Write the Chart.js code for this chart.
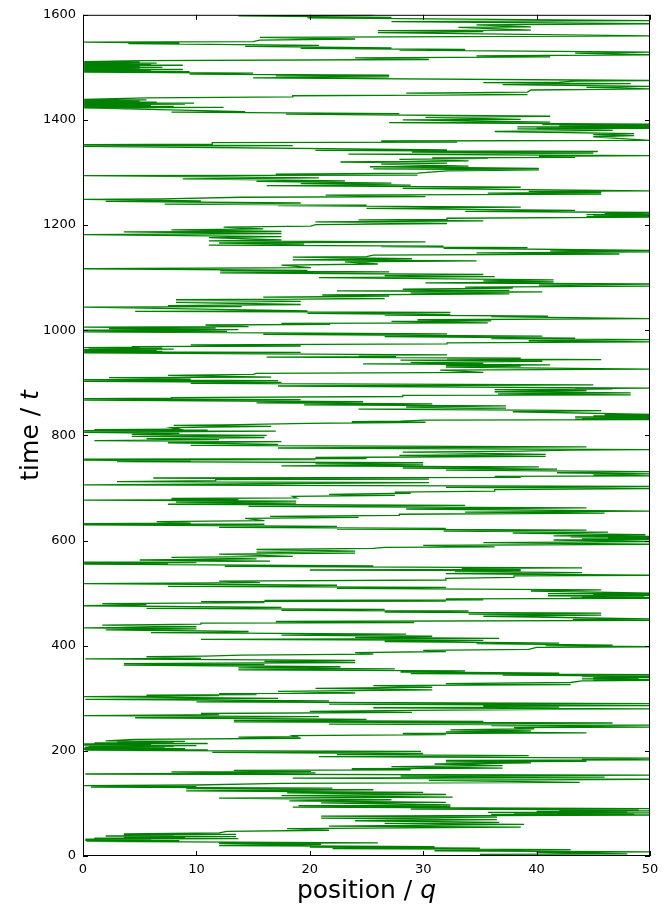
<!DOCTYPE html>
<html>
<head>
<meta charset="utf-8">
<script src="https://cdn.jsdelivr.net/npm/chart.js@4"></script>
<style>
  html, body { margin: 0; padding: 0; background: #fff; }
  #wrap { width: 670px; height: 908px; }
</style>
</head>
<body>
<div id="wrap"><canvas id="walkChart" width="670" height="908"></canvas></div>
<script>
// Trajectory as [position q, time t], in time order
const pathTo140 = [[25.6,0],[41,1],[35,3],[48,4],[40,7],[50,8],[31,10],[43,12],[22,14],[35,15],[20,17],[31,18],[12,20],[21,22],[12,24],[26,25],[0.3,28],[8.5,29],[0.2,30],[6,31],[0.2,32],[13.7,33],[1,34],[9,35],[3.6,36],[13.5,37],[2,38],[8,39],[3.6,40],[13.5,41],[3.6,42],[12,44],[12.7,47],[21.7,49],[18,52],[38.6,55],[21.7,57],[38.9,60],[26.6,62],[36.7,64],[24,67],[36.5,69],[21,72],[36.5,74],[21,76],[50,78],[36,79],[48.6,80],[38,81],[50,82],[35.7,83],[48,84],[40,85],[50,86],[42,87],[49,88],[28.9,89],[50,90],[18.5,93],[32.4,94],[19,96],[32.4,97],[21,101],[32,102],[18.2,105],[27.2,107],[12,110],[32.6,112],[17.5,115],[32,117],[18,120],[30,121],[9.1,124],[25.6,126],[9.1,128],[22,129],[0.7,131],[10,132],[0.1,134],[10,135],[17.5,138],[43.8,140]];
const pathTo277 = [[30.5,144],[50,146],[18.5,148],[46,150],[28,152],[50,154],[0.2,156],[20.5,158],[7.8,160],[20.1,161],[13.3,163],[28.9,164],[23.7,166],[37,167],[27.2,170],[37,172],[31,175],[39.5,177],[32,179],[44.4,180],[32,182],[50,183],[44,185],[50,186],[20.8,189],[39.3,191],[22.4,193],[30,195],[11.4,197],[29.8,199],[0.2,201],[11,202],[0.1,203],[9,204],[0.1,205],[7.2,206],[0.2,207],[8,208],[0.5,209],[10,210],[0.1,211],[6,212],[0.1,213],[11,214],[1,215],[8,216],[3,217],[9,218],[2,219],[4.6,222],[19.2,224],[13.7,226],[18.8,227],[18.5,229],[32,231],[28.2,233],[44.4,234],[32,236],[39.5,238],[32.4,240],[39.8,242],[38,244],[50,245],[36,248],[50,249],[21.7,251],[46.7,253],[13.3,255],[35.3,256],[13.3,258],[25,260],[4.6,263],[20.8,265],[0.1,267],[12,269],[10.4,271],[29,273],[20,275],[29,277]];
const pathTo410 = [[42,279],[50,280],[25.6,282],[42,283],[35.3,285],[50,286],[21.7,289],[50,290],[10,293],[21.7,295],[0.2,298],[17.2,300],[0.1,303],[12,305],[5.6,306],[15.3,307],[12,309],[24,310],[17.2,313],[30.8,316],[20.5,319],[30.8,321],[25.6,324],[43,326],[32,328],[43,330],[44,333],[50,334],[45,335],[50,336],[44,337],[49,338],[45,339],[50,340],[44,341],[50,342],[37,344],[50,345],[28.9,347],[42,348],[28,350],[33.7,352],[13.7,354],[27.5,356],[13.7,358],[22.7,360],[3.6,363],[16,364],[3.6,366],[24,368],[16,370],[24,372],[0.2,375],[10.4,376],[5.6,379],[10.8,380],[14,382],[25.6,384],[24,387],[32,389],[30,391],[39.3,393],[40,397],[50,398],[40.8,400],[46.7,401],[34.7,404],[42,405],[26.6,408],[35.3,410]];
const pathTo543 = [[10.4,412],[36.7,414],[24,416],[30.8,418],[17.5,420],[28.5,422],[6,425],[14.6,427],[2,430],[10,432],[0.1,434],[10,436],[1.7,439],[10.4,441],[10.4,443],[29.2,444],[17,446],[50,448],[43.2,450],[50,451],[35.3,456],[45.7,458],[34,460],[45.7,462],[26.6,464],[34,466],[17.5,467],[26.6,469],[5.6,471],[17.5,473],[0.1,476],[5.6,478],[1.7,480],[16,482],[10.4,484],[32,485],[16,486],[35.3,487],[32,489],[50,490],[43,491],[50,492],[44,493],[49.5,494],[41,495],[50,496],[45,497],[50,498],[41,499],[50,500],[39.5,504],[45.7,506],[22.4,509],[32,511],[7.5,513],[22.4,515],[0.1,518],[15.6,520],[12,523],[32,525],[32,528],[38,530],[38,533],[50,534],[32,537],[44,539],[32.8,541],[38.6,543]];
const pathTo675 = [[20,544],[38.6,545],[33.4,547],[44,548],[12.5,551],[25.6,552],[0.1,555],[7.5,556],[0.1,557],[10,558],[0.1,559],[16.5,561],[5,563],[15.3,565],[7.8,568],[18.5,570],[12,574],[24,576],[15.3,578],[24,580],[15.3,583],[25.6,585],[26.6,587],[36.3,588],[30,591],[50,593],[35.3,596],[50,598],[41.5,601],[50,602],[44,603],[50,604],[46.3,605],[50,606],[43,607],[50,608],[41.5,609],[49.6,611],[37.9,614],[46.3,616],[31.8,618],[44.4,620],[22.4,622],[32,623],[12,625],[22.4,627],[0.1,630],[16,631],[0.1,632],[9.5,633],[6.5,636],[16,638],[14.3,642],[24.3,644],[16.5,646],[27.9,648],[27.9,650],[46,652],[33.7,654],[50,656],[28.5,660],[44.4,662],[14.6,665],[33.7,667],[7.5,669],[18.8,671],[8.2,673],[18.8,675]];
const pathTo808 = [[0.1,677],[13.7,678],[7.8,680],[18.8,681],[18.5,684],[27.5,686],[21.7,688],[28.9,690],[27.5,692],[36.3,694],[36.3,697],[50,699],[32,701],[50,703],[0.1,706],[16.5,708],[20.5,709],[30.5,710],[3,712],[11.7,714],[11.7,716],[30.5,717],[6.2,719],[38.6,720],[36.3,722],[50,723],[45,725],[50,727],[41.8,729],[50,731],[32,734],[41.8,736],[28.2,738],[40.2,740],[17.5,742],[30,744],[20.5,746],[30,748],[3,750],[9.5,751],[0.1,753],[20.5,754],[0.1,755],[25,756],[20.5,758],[40.8,760],[27.9,762],[40.8,764],[28.2,768],[38.6,770],[43,772],[50,773],[17.2,776],[44.4,778],[9.5,781],[17.2,783],[7.5,786],[17.5,788],[1,790],[12,792],[5.6,794],[16,796],[4.3,798],[16.2,800],[4.3,802],[8.5,804],[0.1,806],[17,808]];
const pathTo941 = [[0.1,809],[11,810],[1,811],[8.5,812],[7.8,815],[16.6,817],[8,819],[12.4,820],[19.8,823],[30.2,825],[23.7,826],[28,827],[30.2,829],[50,830],[43.4,831],[50,832],[44,833],[50,834],[43.4,835],[50,836],[45,837],[50,838],[46,839],[50,840],[37.9,845],[45.7,847],[24.3,850],[37.3,852],[28.5,854],[37.3,856],[19.5,858],[30.8,860],[15.3,862],[24.7,864],[0.1,867],[19.2,868],[0.1,870],[7.8,871],[7.8,872],[28.2,874],[28.2,876],[48.3,877],[36.6,879],[48.3,881],[36.3,883],[44.4,885],[36.3,887],[46.7,888],[43.4,889],[50,890],[17.2,894],[45,896],[9.5,899],[17.5,901],[0.1,903],[17.2,904],[0.1,906],[9.5,907],[2.3,910],[16.6,911],[7.5,914],[15,916],[15.3,918],[35.3,920],[31.5,924],[50,926],[32,930],[38.6,932],[32,933],[41.2,934],[24.7,936],[35.3,937],[28.9,939],[40.5,941]];
const pathTo1073 = [[28,943],[45.7,944],[32.1,946],[38.6,947],[16.2,949],[27.6,950],[24.3,952],[32.1,953],[0.1,957],[19.2,958],[0.1,959],[7,960],[0.1,961],[6.5,962],[0.1,963],[8,964],[0.5,965],[7,966],[0.1,967],[5,968],[4.3,969],[19.2,970],[9.5,972],[32.1,974],[32.1,976],[50,978],[39.3,980],[50,982],[36,984],[43.4,985],[26.6,988],[40.5,989],[15.9,992],[32.1,993],[0.1,997],[12.7,998],[0.1,1000],[13.7,1001],[2.3,1003],[11.7,1004],[0.1,1006],[14.6,1007],[10.8,1010],[21.8,1011],[17.5,1013],[35.7,1014],[27.2,1017],[36,1018],[29.5,1020],[50,1022],[36,1026],[41,1027],[26.6,1029],[32.4,1030],[19.8,1032],[32.4,1034],[4.6,1036],[19.8,1037],[0.1,1044],[14,1045],[7.5,1047],[19.2,1049],[8.2,1053],[19.2,1055],[8.2,1058],[26.6,1060],[15.9,1063],[27,1065],[21.1,1067],[37.6,1069],[28.9,1071],[40.5,1073]];
const pathTo1203 = [[22.4,1075],[37.6,1076],[28.2,1078],[37.9,1080],[33.7,1082],[50,1084],[40.2,1086],[50,1088],[30.2,1090],[41.5,1092],[35.3,1094],[41.5,1096],[20.8,1100],[36.3,1102],[26.6,1104],[35.3,1106],[12.1,1109],[27,1111],[12.1,1113],[19.8,1114],[0.1,1117],[20.1,1119],[17.5,1124],[26,1126],[23.1,1130],[34.7,1132],[18.5,1134],[29,1136],[18.5,1139],[25,1140],[25.6,1143],[47.3,1145],[34.7,1147],[50,1149],[41.2,1151],[50,1152],[31.8,1156],[39.2,1157],[26.3,1159],[31.8,1160],[11.1,1162],[19.5,1164],[12,1166],[30.2,1168],[11.1,1170],[17.5,1172],[11.1,1176],[17.5,1178],[0.1,1182],[17.5,1184],[3.6,1187],[17.5,1188],[7.8,1191],[15.9,1193],[12.4,1196],[20.1,1198],[20.5,1201],[32.1,1203]];
const pathTo1337 = [[20.5,1206],[35.3,1208],[24.3,1210],[32.1,1211],[32.1,1213],[50,1215],[44.4,1216],[50,1217],[45,1218],[50,1219],[44.4,1220],[50,1221],[46,1222],[50,1224],[33.7,1226],[43.4,1228],[25,1232],[38.6,1234],[17.2,1237],[25,1238],[7.2,1240],[19.2,1242],[2,1245],[10.4,1246],[0.1,1249],[7,1250],[14,1253],[30.2,1254],[21.4,1257],[45.7,1259],[35.7,1261],[45.7,1262],[39.3,1264],[50,1265],[28.2,1270],[38.6,1272],[16.2,1275],[28.9,1276],[19.2,1279],[27.2,1280],[15.3,1283],[23.1,1284],[8.8,1288],[20.8,1290],[0.1,1294],[29.5,1295],[17,1297],[29.5,1299],[32.1,1303],[40.2,1305],[25.6,1307],[40.2,1308],[25.3,1311],[34,1312],[26.3,1316],[32.1,1318],[22.7,1320],[34,1322],[27.9,1325],[35.7,1327],[30.8,1328],[43.4,1329],[40.2,1331],[50,1332],[23.4,1335],[45,1337]];
const pathTo1469 = [[29,1339],[45.4,1340],[20.5,1342],[32.1,1343],[0.1,1350],[18.5,1351],[0.1,1353],[11.4,1354],[11.4,1357],[33,1358],[26.3,1360],[50,1361],[45,1368],[48.6,1370],[45,1372],[48.6,1374],[36.3,1378],[46.7,1380],[38.3,1383],[50,1384],[40,1385],[50,1386],[38.3,1387],[50,1388],[42,1389],[50,1390],[40.5,1391],[50,1392],[27,1395],[41.2,1396],[28.2,1400],[38.6,1401],[30.2,1405],[41.2,1407],[17.9,1411],[27.9,1412],[7.8,1415],[14.3,1416],[0.1,1423],[12.4,1424],[0.1,1425],[8,1426],[0.1,1427],[6,1428],[0.1,1429],[9,1430],[0.1,1431],[9.8,1432],[0.1,1433],[6.5,1434],[0.1,1435],[5,1436],[0.1,1437],[5.6,1438],[0.1,1439],[5.6,1442],[18.5,1444],[18.5,1446],[39.2,1448],[28.5,1451],[39.2,1453],[39.5,1457],[50,1459],[44.4,1462],[50,1464],[37,1467],[48.3,1469]];
const pathTo1600 = [[35.3,1471],[42,1472],[43.4,1474],[50,1475],[15,1480],[27,1482],[17,1484],[27,1485],[9.4,1487],[15,1489],[0.1,1491],[9.4,1492],[0.1,1493],[6,1494],[0.1,1495],[8.8,1496],[0.1,1497],[5,1498],[0.1,1499],[7,1500],[0.1,1501],[5,1502],[0.1,1503],[8.8,1504],[0.1,1505],[6,1506],[0.1,1507],[6.5,1508],[0.1,1509],[5,1510],[0.1,1511],[5.3,1513],[30.5,1515],[24,1518],[41.2,1520],[34.7,1522],[50,1524],[43.4,1527],[50,1529],[27.9,1533],[33.7,1534],[19.2,1536],[27.2,1537],[14.3,1540],[20.8,1542],[4,1545],[8.5,1546],[0.1,1548],[15,1549],[15.6,1552],[24,1554],[15.6,1557],[50,1560],[26,1566],[35.3,1568],[26,1570],[39.5,1571],[33.1,1576],[39.5,1577],[34.7,1581],[50,1583],[27.2,1587],[50,1589],[19.8,1594],[27.2,1595],[13.7,1598],[25.6,1600]];

const positionTicks = [0, 10, 20, 30, 40, 50];
const timeTicks = [0, 200, 400, 600, 800, 1000, 1200, 1400, 1600];

const trajectory = [].concat(
  pathTo140, pathTo277, pathTo410, pathTo543, pathTo675, pathTo808, pathTo941,
  pathTo1073, pathTo1203, pathTo1337, pathTo1469, pathTo1600
).map(([q, t]) => ({ x: q, y: t }));

const tickFont = { family: "DejaVu Sans", size: 13 };

// draws "normal text" + italic symbol, centred on cx
function labelWithSymbol(ctx, text, symbol, cx, cy) {
  const normal = "25px 'DejaVu Sans'";
  const italic = "italic 25px 'DejaVu Sans'";
  ctx.font = normal;
  const w1 = ctx.measureText(text).width;
  ctx.font = italic;
  const w2 = ctx.measureText(symbol).width;
  let x = cx - (w1 + w2) / 2;
  ctx.font = normal;
  ctx.fillText(text, x, cy);
  ctx.font = italic;
  ctx.fillText(symbol, x + w1, cy);
}

// frame, inward tick marks and axis titles (matplotlib classic look)
const framePlugin = {
  id: "frame",
  afterDraw(chart) {
    const { ctx, chartArea: a, scales } = chart;
    ctx.save();
    ctx.strokeStyle = "#000";
    ctx.lineWidth = 1;
    ctx.strokeRect(a.left + 0.5, a.top + 0.5, a.right - a.left - 1, a.bottom - a.top - 1);
    ctx.beginPath();
    positionTicks.forEach(v => {
      const px = Math.round(scales.x.getPixelForValue(v)) + 0.5;
      ctx.moveTo(px, a.bottom); ctx.lineTo(px, a.bottom - 5);
      ctx.moveTo(px, a.top); ctx.lineTo(px, a.top + 5);
    });
    timeTicks.forEach(v => {
      const py = Math.round(scales.y.getPixelForValue(v)) + 0.5;
      ctx.moveTo(a.left, py); ctx.lineTo(a.left + 5, py);
      ctx.moveTo(a.right, py); ctx.lineTo(a.right - 5, py);
    });
    ctx.stroke();

    ctx.fillStyle = "#000";
    ctx.textAlign = "left";
    ctx.textBaseline = "alphabetic";
    labelWithSymbol(ctx, "position / ", "q", (a.left + a.right) / 2, 898);
    ctx.translate(38, (a.top + a.bottom) / 2);
    ctx.rotate(-Math.PI / 2);
    labelWithSymbol(ctx, "time / ", "t", 0, 0);
    ctx.restore();
  }
};

new Chart(document.getElementById("walkChart"), {
  type: "scatter",
  data: {
    datasets: [{
      data: trajectory,
      showLine: true,
      borderColor: "#008000",
      borderWidth: 1.3,
      pointRadius: 0,
      tension: 0
    }]
  },
  options: {
    responsive: false,
    animation: false,
    devicePixelRatio: 1,
    layout: { padding: { top: 13, right: 20, left: 0, bottom: 0 } },
    plugins: { legend: { display: false }, tooltip: { enabled: false } },
    scales: {
      x: {
        type: "linear",
        min: 0, max: 50,
        afterBuildTicks: s => { s.ticks = positionTicks.map(v => ({ value: v })); },
        afterFit: s => { s.height = 52; },
        grid: { display: false, drawTicks: false },
        border: { display: false },
        ticks: { font: tickFont, color: "#000", padding: 6, maxRotation: 0, callback: v => String(v) }
      },
      y: {
        type: "linear",
        min: 0, max: 1600,
        afterBuildTicks: s => { s.ticks = timeTicks.map(v => ({ value: v })); },
        afterFit: s => { s.width = 83; },
        grid: { display: false, drawTicks: false },
        border: { display: false },
        ticks: { font: tickFont, color: "#000", padding: 7, callback: v => String(v) }
      }
    }
  },
  plugins: [framePlugin]
});
</script>
</body>
</html>
